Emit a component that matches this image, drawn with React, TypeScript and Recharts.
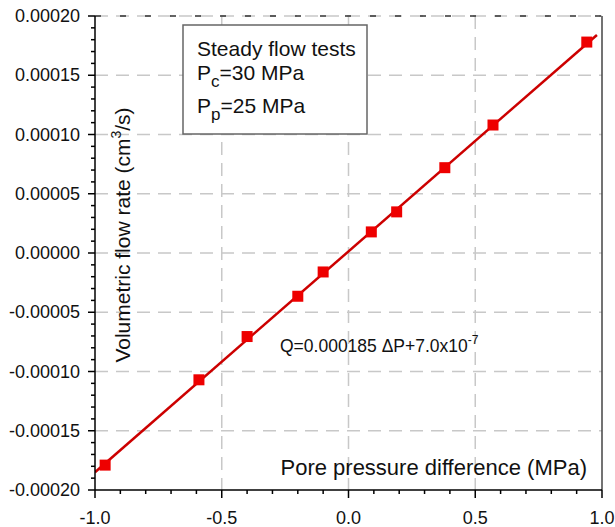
import { ComposedChart, Line, Scatter, XAxis, YAxis, CartesianGrid, ReferenceLine } from 'recharts';

// measured points: pore pressure difference (MPa) vs flow rate (cm3/s)
const dP = [-0.96, -0.59, -0.40, -0.20, -0.10, 0.09, 0.19, 0.38, 0.57, 0.94];
const flow = [-0.000179, -0.000107, -0.0000705, -0.0000365, -0.000016, 0.0000178, 0.0000347, 0.000072, 0.000108, 0.000178];

// fitted line end points
const fitX = [-1.0, 0.98];
const fitY = [-0.000185, 0.000184];

const xTicks: number[] = [];
for (let i = -10; i <= 10; i++) xTicks.push(i / 10);
const yTicks: number[] = [];
for (let i = -20; i <= 20; i++) yTicks.push(i / 100000);

const points = dP.map((x, i) => ({ x, y: flow[i] }));
const fit = fitX.map((x, i) => ({ x, y: fitY[i] }));

const FONT = 'Liberation Sans, Arial, sans-serif';

const isMajor = (v: number, step: number) => Math.abs(v / step - Math.round(v / step)) < 1e-6;

const XTick = ({ x, y, payload }: any) => {
  const v = payload.value;
  const major = isMajor(v, 0.5);
  return (
    <g>
      <line x1={x} x2={x} y1={y} y2={y + (major ? 8 : 4)} stroke="#000" strokeWidth={1.5} />
      {major && (
        <text x={x} y={y + 34} textAnchor="middle" fontSize={18} fontFamily={FONT} fill="#111">
          {Math.abs(v) < 1e-9 ? '0.0' : v.toFixed(1)}
        </text>
      )}
    </g>
  );
};

const YTick = ({ x, y, payload }: any) => {
  const v = payload.value;
  const major = isMajor(v, 0.00005);
  return (
    <g>
      <line x1={x} x2={x - (major ? 7 : 4)} y1={y} y2={y} stroke="#000" strokeWidth={1.5} />
      {major && (
        <text x={x - 15} y={y + 6} textAnchor="end" fontSize={18} fontFamily={FONT} fill="#111">
          {Math.abs(v) < 1e-12 ? '0.00000' : v.toFixed(5)}
        </text>
      )}
    </g>
  );
};

const Square = (props: any) => {
  const { cx, cy } = props;
  return <rect x={cx - 5.5} y={cy - 5.5} width={11} height={11} fill="#ee0000" />;
};

export default function App() {
  return (
    <div style={{ position: 'absolute', left: 0, top: 0, width: 615, height: 527, background: '#fff' }}>
      <ComposedChart width={615} height={527} margin={{ top: 16, right: 13, left: 0, bottom: 0 }}>
        <CartesianGrid
          stroke="#c8c8c8"
          strokeWidth={1.5}
          strokeDasharray="13 8"
          verticalValues={[-0.5, 0, 0.5]}
          horizontalValues={[-0.00015, -0.0001, -0.00005, 0, 0.00005, 0.0001, 0.00015, 0.0002]}
        />
        <XAxis
          type="number"
          dataKey="x"
          domain={[-1, 1]}
          ticks={xTicks}
          interval={0}
          tick={<XTick />}
          tickLine={false}
          tickSize={0}
          tickMargin={0}
          height={37}
          axisLine={{ stroke: '#000', strokeWidth: 1.5 }}
          allowDataOverflow
        />
        <YAxis
          type="number"
          dataKey="y"
          domain={[-0.0002, 0.0002]}
          ticks={yTicks}
          interval={0}
          tick={<YTick />}
          tickLine={false}
          tickSize={0}
          tickMargin={0}
          width={95}
          axisLine={{ stroke: '#000', strokeWidth: 1.5 }}
          allowDataOverflow
        />
        <ReferenceLine y={0.0002} stroke="#333" strokeWidth={1.5} strokeDasharray="6 19" />
        <ReferenceLine x={1} stroke="#444" strokeWidth={1.5} />
        <Line data={fit} dataKey="y" stroke="#cc0000" strokeWidth={2.5} dot={false} isAnimationActive={false} />
        <Scatter data={points} dataKey="y" shape={<Square />} isAnimationActive={false} />
      </ComposedChart>
      <svg width={615} height={527} style={{ position: 'absolute', left: 0, top: 0, pointerEvents: 'none' }}>
        <g fontFamily={FONT} fill="#111">
          <rect x={183} y={25} width={184} height={109} fill="#fff" stroke="#666" strokeWidth={1.5} />
          <text x={197} y={56} fontSize={21}>Steady flow tests</text>
          <text x={197} y={80} fontSize={21}>
            P<tspan fontSize={17} dy={7}>c</tspan>
            <tspan dy={-7}>=30 MPa</tspan>
          </text>
          <text x={197} y={113} fontSize={21}>
            P<tspan fontSize={17} dy={7}>p</tspan>
            <tspan dy={-7}>=25 MPa</tspan>
          </text>
          <text x={280} y={352} fontSize={17.5}>
            Q=0.000185 ΔP+7.0x10<tspan fontSize={12} dy={-8}>-7</tspan>
          </text>
          <text x={587} y={475} fontSize={22} textAnchor="end">Pore pressure difference (MPa)</text>
          <text x={130} y={235} fontSize={21} textAnchor="middle" transform="rotate(-90 130 235)">
            Volumetric flow rate (cm<tspan fontSize={14} dy={-9}>3</tspan>
            <tspan dy={9}>/s)</tspan>
          </text>
        </g>
      </svg>
    </div>
  );
}
